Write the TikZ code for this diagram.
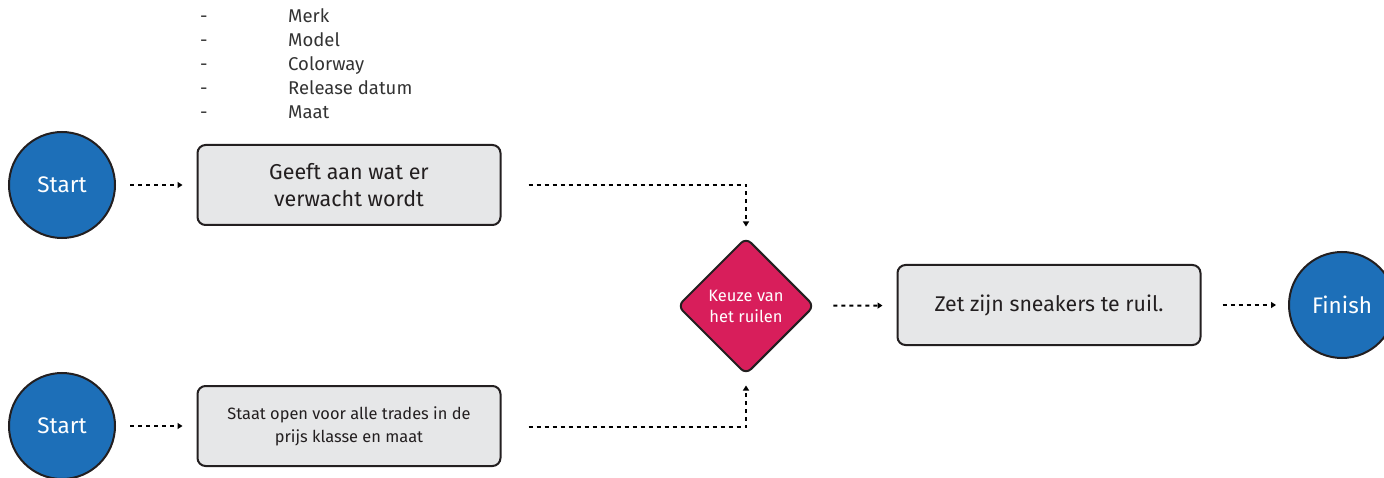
\documentclass[tikz,border=0pt]{standalone}
\usepackage{fontspec}
\setmainfont{Fira Sans}
\usetikzlibrary{shapes.geometric,arrows.meta}
\definecolor{startblue}{HTML}{1D6FB8}
\definecolor{choicepink}{HTML}{D81E5B}
\definecolor{boxgray}{HTML}{E6E7E8}
\definecolor{edge}{HTML}{231F20}
\definecolor{listtext}{HTML}{333333}
\tikzset{
  terminal/.style={circle, draw=edge, line width=2pt, fill=startblue, minimum size=106pt,
    inner sep=0pt, text=white, font=\fontsize{22.5}{26}\selectfont},
  stepbox/.style={rectangle, rounded corners=8pt, draw=edge, line width=2pt, fill=boxgray,
    minimum width=303pt, minimum height=80pt, inner sep=0pt, align=center, text=edge},
  choice/.style={diamond, rounded corners=7pt, draw=edge, line width=2pt, fill=choicepink,
    minimum width=137pt, minimum height=137pt, inner sep=0pt, align=center, text=white,
    font=\fontsize{16.5}{21}\selectfont},
  flow/.style={draw=black, line width=2pt, dash pattern=on 4pt off 4pt,
    -{Triangle[length=5pt,width=6pt]}},
  listitem/.style={anchor=base west, inner sep=0pt, text=listtext, font=\fontsize{18.5}{20}\selectfont},
}
\begin{document}
\begin{tikzpicture}[x=1pt,y=-1pt]
\useasboundingbox (0,0) rectangle (1384,478);

% terminals
\node[terminal] (s1) at (62,185) {Start};
\node[terminal] (s2) at (62,426) {Start};
\node[terminal] (fin) at (1342,305) {Finish};

% process boxes
\node[stepbox, font=\fontsize{21.5}{27}\selectfont] (b1) at (349,185) {Geeft aan wat er\\verwacht wordt};
\node[stepbox, font=\fontsize{16.4}{23}\selectfont] (b2) at (349,426) {Staat open voor alle trades in de\\prijs klasse en maat};
\node[stepbox, font=\fontsize{21.3}{24}\selectfont] (b3) at (1049,305) {Zet zijn sneakers te ruil.};

% decision
\node[choice] (d) at (746,306) {Keuze van\\het ruilen};

% criteria list above the first box
\foreach \t [count=\i from 0] in {Merk,Model,Colorway,Release datum,Maat}{
  \node[listitem] (dash\i) at (200,23+24*\i) {-};
  \node[listitem] (item\i) at (288,23+24*\i) {\t};
}

% connectors
\coordinate (j1) at (746,185);
\coordinate (j2) at (746,427);
\draw[flow, shorten <=14pt, shorten >=14pt] (s1) -- (b1);
\draw[flow, shorten <=14pt, shorten >=14pt] (s2) -- (b2);
\draw[flow, shorten <=27pt, shorten >=10pt] (b1.east) -- (j1) -- (d.north);
\draw[flow, shorten <=27pt, shorten >=10pt] (b2.east |- j2) -- (j2) -- (d.south);
\draw[flow, shorten <=18pt, shorten >=14pt] (d) -- (b3);
\draw[flow, shorten <=21pt, shorten >=12pt] (b3) -- (fin);
\end{tikzpicture}
\end{document}
